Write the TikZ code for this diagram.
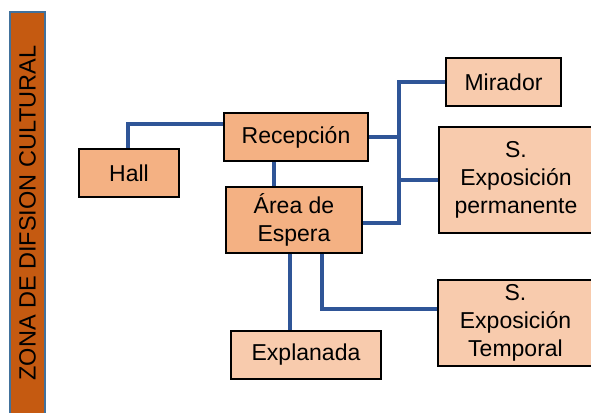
\documentclass[tikz,border=0pt]{standalone}
\usepackage{fontspec}
\setmainfont{Liberation Sans}
\usetikzlibrary{backgrounds}
\definecolor{barfill}{HTML}{C55A11}
\definecolor{barline}{HTML}{41719C}
\definecolor{darkbox}{HTML}{F4B183}
\definecolor{lightbox}{HTML}{F8CBAD}
\definecolor{conn}{HTML}{2F5597}
\tikzset{
  boxbase/.style={draw=black, line width=2.8pt, inner sep=0pt, align=center,
    font=\fontsize{23}{28}\selectfont},
  darkbx/.style={boxbase, fill=darkbox},
  lightbx/.style={boxbase, fill=lightbox},
  link/.style={draw=conn, line width=4pt}
}
\begin{document}
\begin{tikzpicture}[x=1pt,y=-1pt]
\useasboundingbox (0,0) rectangle (591,412);
% left bar
\draw[fill=barfill, draw=barline, line width=1.5pt] (10,12) rectangle (45,415);
\node[rotate=90, font=\fontsize{23.5}{28}\selectfont, inner sep=0pt] (bar) at (27.5,213) {ZONA DE DIFSION CULTURAL};
% boxes
\node[darkbx, minimum width=100pt, minimum height=48pt] (hall) at (129,173) {Hall};
\node[darkbx, minimum width=144pt, minimum height=48pt] (rec) at (296,137) {Recepción};
\node[darkbx, minimum width=136pt, minimum height=66pt] (area) at (294,220) {Área de\\Espera};
\node[lightbx, minimum width=115pt, minimum height=48pt] (mir) at (503.5,82) {Mirador};
\node[lightbx, minimum width=154pt, minimum height=106pt] (sep) at (516,180) {S.\\Exposición\\permanente};
\node[lightbx, minimum width=150pt, minimum height=48pt] (expl) at (306,355) {Explanada};
\node[lightbx, minimum width=155pt, minimum height=86pt] (sept) at (515.5,323) {S.\\Exposición\\Temporal};
% helper coordinates
\coordinate (tt) at (399,82);
\coordinate (tb) at (399,223);
\coordinate (cx1) at (128,0);
\coordinate (cx2) at (274,0);
\coordinate (cx3) at (290,0);
\coordinate (cx4) at (322,0);
\coordinate (cy1) at (0,124);
\coordinate (cy2) at (0,309);
% connectors
\begin{scope}[on background layer]
\draw[link] (hall.north -| cx1) -- (cx1 |- cy1) -- (rec.west |- cy1);
\draw[link] (rec.south -| cx2) -- (area.north -| cx2);
\draw[link] (area.east |- tb) -- (tb) -- (tt) -- (mir.west);
\draw[link] (rec.east) -- (rec.east -| tt);
\draw[link] (sep.west) -- (sep.west -| tt);
\draw[link] (area.south -| cx3) -- (expl.north -| cx3);
\draw[link] (area.south -| cx4) -- (cx4 |- cy2) -- (sept.west |- cy2);
\end{scope}
\end{tikzpicture}
\end{document}
